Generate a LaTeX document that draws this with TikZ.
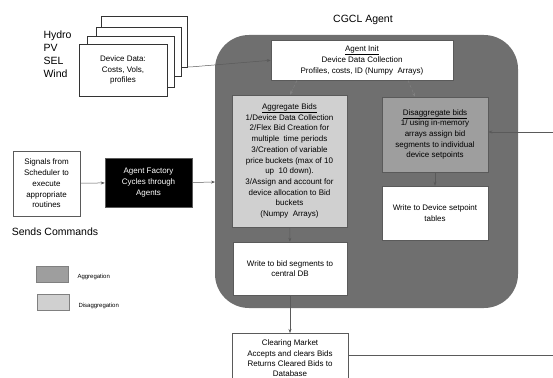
\documentclass[tikz,border=0pt]{standalone}
\usepackage{fontspec}
\setmainfont{Liberation Sans}
\usetikzlibrary{arrows.meta, positioning}

\definecolor{agentgray}{RGB}{111,111,111}
\definecolor{aggfill}{RGB}{208,208,208}
\definecolor{disfill}{RGB}{158,158,158}
\definecolor{edgegray}{RGB}{90,90,90}

\begin{document}
\begin{tikzpicture}[x=1pt, y=-1pt, >={Stealth[length=4pt, width=3pt]},
    every node/.style={font=\fontsize{8}{10.7}\selectfont, align=center},
    box/.style={rectangle, draw=edgegray, line width=0.5pt, inner sep=1pt},
    page/.style={rectangle, draw=black!80, fill=white, line width=0.5pt, inner sep=0pt},
    swatch/.style={rectangle, draw=gray, line width=0.6pt, minimum width=32, minimum height=16},
    flow/.style={->, draw=edgegray, line width=0.5pt},
    hint/.style={->, draw=gray, densely dashed, line width=0.5pt}]
    \useasboundingbox (0,0) rectangle (553,377);

    % Define agent frame
    \fill[agentgray, rounded corners=34pt] (215,35) rectangle (518,308);
    \node[font=\fontsize{10.5}{13}\selectfont] (title) at (363,20) {CGCL Agent};

    % Define device pages
    \node[page, minimum width=86, minimum height=51] (page4) at (144,41.5) {};
    \node[page, minimum width=85, minimum height=49] (page3) at (138.5,51.5) {};
    \node[page, minimum width=87, minimum height=51] (page2) at (130.5,61.5) {};
    \node[page, minimum width=88, minimum height=52] (page1) at (123,70)
        {Device Data:\\Costs, Vols,\\profiles};
    \node[font=\fontsize{10.5}{13}\selectfont, align=left, anchor=west] (kinds) at (40,54.5)
        {Hydro\\PV\\SEL\\Wind};

    % Define vertices
    \node[box, fill=white, anchor=north, minimum width=182, minimum height=40, inner ysep=3pt] (init) at (362,40)
        {\underline{Agent Init}\\Device Data Collection\\Profiles, costs, ID (Numpy\ \ Arrays)};
    \node[box, fill=aggfill, minimum width=115, minimum height=132] (agg) at (289.5,161)
        {\underline{Aggregate Bids}\\1/Device Data Collection\\2/Flex Bid Creation for\\multiple\ \ time periods\\3/Creation of variable\\price buckets (max of 10\\up\ \ 10 down).\\3/Assign and account for\\device allocation to Bid\\buckets\\(Numpy\ \ Arrays)};
    \node[box, fill=disfill, minimum width=106, minimum height=75] (disagg) at (435,134.5)
        {\underline{Disaggregate bids}\\1/ using in-memory\\arrays assign bid\\segments to individual\\device setpoints};
    \node[box, fill=white, minimum width=106, minimum height=54] (setpt) at (435,213)
        {Write to Device setpoint\\tables};
    \node[box, fill=white, minimum width=114, minimum height=53] (biddb) at (290,268.5)
        {Write to bid segments to\\central DB};
    \node[box, fill=white, anchor=north, minimum width=116, minimum height=50, inner ysep=2pt, font=\fontsize{8}{10.2}\selectfont] (clear) at (290,333)
        {Clearing Market\\Accepts and clears Bids\\Returns Cleared Bids to\\Database};
    \node[box, fill=white, minimum width=67, minimum height=65] (signals) at (46.5,183.5)
        {Signals from\\Scheduler to\\execute\\appropriate\\routines};
    \node[box, fill=black, text=white, minimum width=87, minimum height=49] (factory) at (148.5,182.5)
        {Agent Factory\\Cycles through\\Agents};
    \node[font=\fontsize{10.5}{13}\selectfont] (sends) at (55,232) {Sends Commands};

    % Define legend
    \node[swatch, fill=disfill] (keyagg) at (52,274) {};
    \node[font=\fontsize{6}{7}\selectfont, anchor=west] (keyaggtxt) at (74,277) {Aggregation};
    \node[swatch, fill=aggfill] (keydis) at (53.5,302.5) {};
    \node[font=\fontsize{6}{7}\selectfont, anchor=west] (keydistxt) at (75,306) {Disaggregation};

    % Define loose ends
    \coordinate (outR) at (560,355);
    \coordinate (inR) at (560,132);
    \coordinate (frameW) at (215,182);

    % Draw edges
    \draw[flow] (page4.south east |- 0,67) -- ++(3,0) -- (init.west); % pages -> init
    \draw[hint] (init.south -| 297,0) -- (agg.north -| 290,0); % init -> aggregate
    \draw[hint] (init.south -| 408,0) -- (disagg.north -| 415,0); % init -> disaggregate
    \draw[flow] (agg) -- (biddb); % aggregate -> bid DB
    \draw[flow] (disagg) -- (setpt); % disaggregate -> setpoints
    \draw[flow] (biddb) -- (clear); % bid DB -> clearing
    \draw[flow] (signals) -- (factory); % signals -> factory
    \draw[flow] (factory.east) -- (frameW); % factory -> agent
    \draw[edgegray, line width=0.5pt] (clear.east |- outR) -- (outR); % clearing out
    \draw[flow] (inR) -- (disagg.east |- inR); % cleared bids back in
\end{tikzpicture}
\end{document}
